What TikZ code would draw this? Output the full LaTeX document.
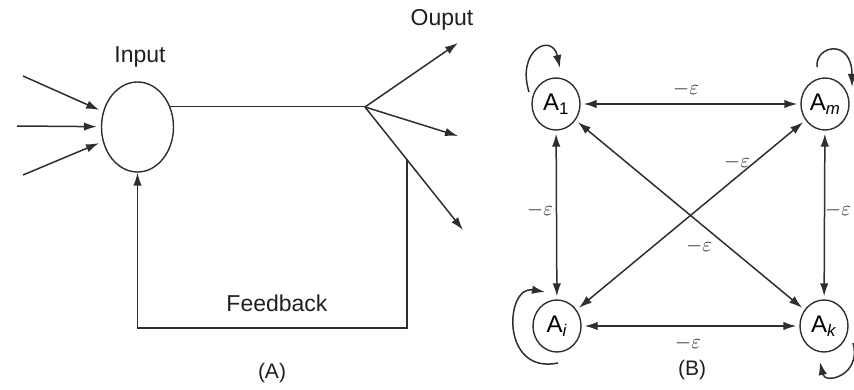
\documentclass[tikz,border=0pt]{standalone}
\usepackage{fontspec}
\setmainfont{Liberation Sans}
\usetikzlibrary{arrows.meta,shapes.geometric}
\begin{document}
\begin{tikzpicture}[x=1pt,y=-1pt,
  line/.style={draw=black!82, line width=1.5pt},
  arr/.style={line, -{Latex[length=13pt,width=8.5pt]}},
  darr/.style={line, {Latex[length=13pt,width=8.5pt]}-{Latex[length=13pt,width=8.5pt]}, shorten <=3pt, shorten >=3pt},
  cell/.style={ellipse, draw=black!82, line width=1.4pt, minimum width=48pt, minimum height=52pt, inner sep=0pt, font=\fontsize{24}{24}\selectfont},
  lbl/.style={font=\fontsize{23}{23}\selectfont, text=black!88},
  eps/.style={font=\fontsize{20}{20}\selectfont, text=black!88, inner sep=1pt}]
\useasboundingbox (0,0) rectangle (854,390);

% ---------- (A): single unit with feedback ----------
\node[ellipse, line, line width=1.4pt, minimum width=72pt, minimum height=90pt, inner sep=0pt] (in) at (137.5,127) {};
\node[lbl] (inlbl) at (140,57) {Input};

\coordinate (s1) at (23,76);
\coordinate (s2) at (17,126);
\coordinate (s3) at (23,175);
\draw[arr, shorten >=4pt] (s1) -- (in);
\draw[arr, shorten >=4pt] (s2) -- (in);
\draw[arr, shorten >=4pt] (s3) -- (in);

\coordinate (br) at (365,107);
\draw[line] (in.32) -- (in.32 -| br);

\coordinate (o1) at (458,43);
\coordinate (o2) at (458,136);
\coordinate (o3) at (463,230);
\draw[arr] (br) -- (o1);
\draw[arr] (br) -- (o2);
\draw[arr] (br) -- (o3);
\node[lbl] (outlbl) at (442,20) {Ouput};

\coordinate (fb) at (407,160);
\coordinate (fc) at (407,328);
\draw[arr] (fb) -- (fc) -| (in);
\node[lbl] (fblbl) at (277,303) {Feedback};
\node[lbl, font=\fontsize{21}{21}\selectfont] (capA) at (272,373) {(A)};

% ---------- (B): four mutually inhibiting units ----------
\node[cell] (A1) at (556,104) {A\textsubscript{1}};
\node[cell] (Am) at (825,104) {A\textsubscript{\textit{m}}};
\node[cell] (Ai) at (557,326) {A\textsubscript{\textit{i}}};
\node[cell] (Ak) at (824,326) {A\textsubscript{\textit{k}}};

\draw[darr] (A1) -- (Am);
\draw[darr] (Ai) -- (Ak);
\draw[darr] (A1) -- (Ai);
\draw[darr] (Am) -- (Ak);
\draw[darr] (A1) -- (Ak);
\draw[darr] (Am) -- (Ai);

\node[eps] (e1) at (686,89) {$-\varepsilon$};
\node[eps] (e2) at (540,210) {$-\varepsilon$};
\node[eps] (e3) at (838,210) {$-\varepsilon$};
\node[eps] (e4) at (737,162) {$-\varepsilon$};
\node[eps] (e5) at (699,246) {$-\varepsilon$};
\node[eps] (e6) at (688,343) {$-\varepsilon$};

% self-excitation loops
\coordinate (l1a) at (529,92);  \coordinate (l1b) at (560,68);
\draw[arr] (l1a) .. controls (516,50) and (552,32) .. (l1b);
\coordinate (lma) at (817,67);  \coordinate (lmb) at (852,87);
\draw[arr] (lma) .. controls (815,45) and (852,38) .. (lmb);
\coordinate (lia) at (558,363); \coordinate (lib) at (545,292);
\draw[arr] (lia) .. controls (500,375) and (505,285) .. (lib);
\coordinate (lka) at (853,343); \coordinate (lkb) at (820,362);
\draw[arr] (lka) .. controls (862,375) and (825,385) .. (lkb);

\node[lbl, font=\fontsize{21}{21}\selectfont] (capB) at (692,370) {(B)};
\end{tikzpicture}
\end{document}
